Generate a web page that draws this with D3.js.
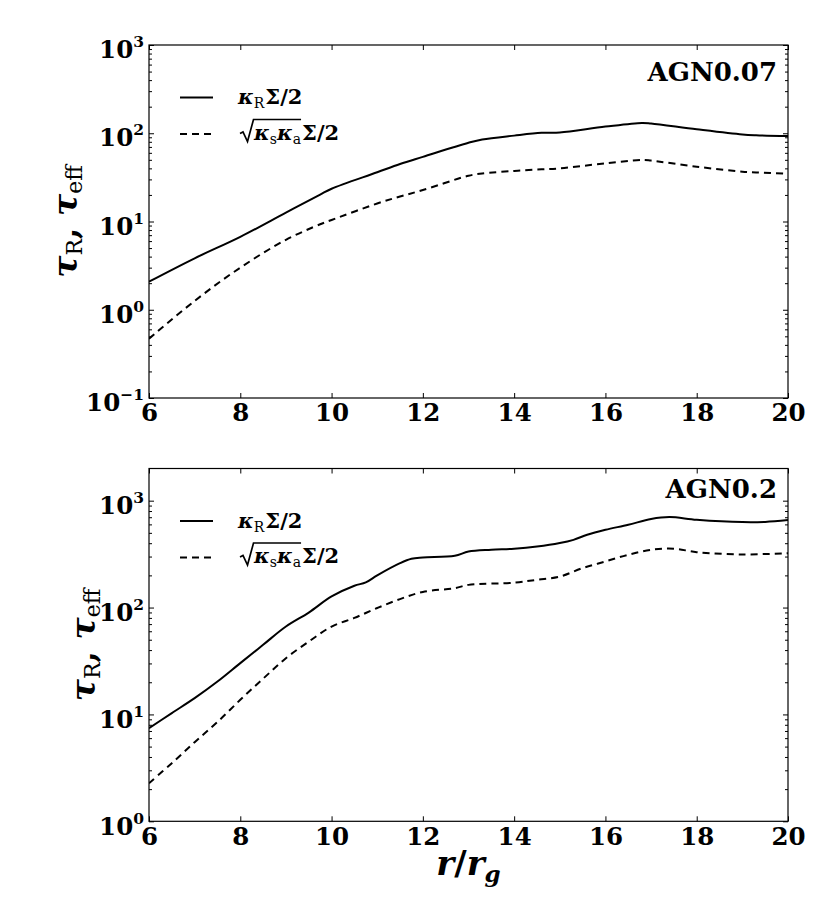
<!DOCTYPE html>
<html>
<head>
<meta charset="utf-8">
<script src="https://cdn.jsdelivr.net/npm/d3@7"></script>
<style>
  body { margin: 0; background: #fff; }
  text { font-family: "DejaVu Serif", "Liberation Serif", serif; font-weight: bold; fill: #000; }
</style>
</head>
<body>
<div id="chart"></div>
<script>
// x axis, r / r_g
const xDomain = [6, 20];
const xTicks = [6, 8, 10, 12, 14, 16, 18, 20];

// AGN0.07 (top panel)
const rTop = [6, 7, 8, 9, 9.75, 10, 11, 11.5, 12, 13, 13.3, 14, 14.6, 15, 16, 16.8, 17, 18, 19, 19.3, 20];
const tauRTop = [2.08, 3.83, 6.7, 12.6, 20.2, 23.5, 36.1, 44.8, 54, 78, 85, 94, 101, 102, 119, 131, 129, 111, 97, 95, 93];
const tauEffTop = [0.47, 1.26, 3.0, 6.2, 9.3, 10.4, 16.0, 19.2, 22.7, 33, 35, 37.4, 39, 40, 45.6, 49.8, 49, 41.8, 36.7, 36, 34.8];

// AGN0.2 (bottom panel)
const rBotR = [6, 6.5, 7, 7.5, 8, 8.5, 9, 9.5, 10, 10.5, 10.75, 11, 11.5, 11.75, 12, 12.7, 13, 13.5, 14, 14.5, 15, 15.3, 15.6, 16, 16.5, 17, 17.4, 18, 19, 19.5, 20];
const tauRBot = [7.43, 10.3, 14.2, 20.3, 30.2, 44.8, 66.4, 89.8, 127, 160, 172, 200, 260, 286, 294, 305, 334, 347, 355, 372, 401, 430, 480, 534, 595, 673, 702, 663, 630, 633, 658];
const rBotEff = [6, 6.5, 7, 7.5, 8, 8.5, 9, 9.5, 10, 10.5, 11, 11.5, 12, 12.7, 13, 14, 14.5, 15, 15.5, 16, 16.5, 17, 17.5, 18, 19, 20];
const tauEffBot = [2.27, 3.5, 5.5, 8.5, 13.7, 21.6, 33.6, 48, 66.4, 80, 99, 120, 140, 152, 163, 171, 182, 195, 234, 270, 312, 347, 355, 330, 314, 323];

const topMajor = [0.1, 1, 10, 100, 1000];
const botMajor = [1, 10, 100, 1000];

const W = 830, H = 913;
const left = 149, right = 788;

const panels = [
  { name: "AGN0.07", top: 45, bottom: 398, yDomain: [0.1, 1000], major: topMajor,
    solid: { r: rTop, v: tauRTop }, dashed: { r: rTop, v: tauEffTop },
    nameDy: 36, ylabelX: 77 },
  { name: "AGN0.2", top: 468.5, bottom: 821.3, yDomain: [1, 2000], major: botMajor,
    solid: { r: rBotR, v: tauRBot }, dashed: { r: rBotEff, v: tauEffBot },
    nameDy: 29, ylabelX: 95 }
];

const svg = d3.select("#chart").append("svg")
  .attr("width", W)
  .attr("height", H);
svg.append("rect").attr("width", W).attr("height", H).attr("fill", "#fff");

const x = d3.scaleLinear().domain(xDomain).range([left, right]);

function minorTicks(domain) {
  var out = [];
  var lo = Math.floor(Math.log10(domain[0])), hi = Math.ceil(Math.log10(domain[1]));
  for (var e = lo; e < hi; e++) {
    for (var k = 2; k <= 9; k++) {
      var v = k * Math.pow(10, e);
      if (v > domain[0] && v < domain[1]) out.push(v);
    }
  }
  return out;
}

function expLabel(d) {
  var e = Math.round(Math.log10(d));
  return e < 0 ? "\u2212" + Math.abs(e) : String(e);
}

panels.forEach(p => {
  const y = d3.scaleLog().domain(p.yDomain).range([p.bottom, p.top]);
  const g = svg.append("g");
  const minor = minorTicks(p.yDomain);

  // minor y ticks, both sides, inside
  g.append("g").attr("transform", "translate(" + left + ",0)")
    .call(d3.axisLeft(y).tickValues(minor).tickSize(-3).tickFormat(""))
    .call(a => a.select(".domain").remove());
  g.append("g").attr("transform", "translate(" + right + ",0)")
    .call(d3.axisRight(y).tickValues(minor).tickSize(-3).tickFormat(""))
    .call(a => a.select(".domain").remove());

  // major y ticks
  var yl = g.append("g").attr("transform", "translate(" + left + ",0)")
    .call(d3.axisLeft(y).tickValues(p.major).tickSizeInner(-5).tickSizeOuter(0).tickPadding(5).tickFormat(""))
    .call(a => a.select(".domain").remove());
  yl.selectAll(".tick text").each(function(d) {
    var t = d3.select(this).attr("dy", null).attr("y", 12.7)
      .attr("font-size", 24.5).attr("font-family", null);
    t.append("tspan").text("10");
    t.append("tspan").attr("font-size", 15.5).attr("dy", -11).text(expLabel(d));
  });
  g.append("g").attr("transform", "translate(" + right + ",0)")
    .call(d3.axisRight(y).tickValues(p.major).tickSizeInner(-5).tickSizeOuter(0).tickFormat(""))
    .call(a => a.select(".domain").remove());

  // x ticks, top and bottom
  var xb = g.append("g").attr("transform", "translate(0," + p.bottom + ")")
    .call(d3.axisBottom(x).tickValues(xTicks).tickSizeInner(-5).tickSizeOuter(0).tickPadding(6))
    .call(a => a.select(".domain").remove());
  xb.selectAll(".tick text").attr("font-size", 24.5).attr("font-family", null);
  g.append("g").attr("transform", "translate(0," + p.top + ")")
    .call(d3.axisTop(x).tickValues(xTicks).tickSizeInner(-5).tickSizeOuter(0).tickFormat(""))
    .call(a => a.select(".domain").remove());

  // frame
  g.append("rect")
    .attr("x", left).attr("y", p.top)
    .attr("width", right - left).attr("height", p.bottom - p.top)
    .attr("fill", "none").attr("stroke", "#000").attr("stroke-width", 1.2);

  // curves
  const line = d3.line()
    .x(d => x(d[0]))
    .y(d => y(d[1]))
    .curve(d3.curveCatmullRom.alpha(0.5));
  const clip = "clip" + p.name.replace(".", "");
  g.append("clipPath").attr("id", clip).append("rect")
    .attr("x", left).attr("y", p.top).attr("width", right - left).attr("height", p.bottom - p.top);

  g.append("path")
    .datum(d3.zip(p.solid.r, p.solid.v))
    .attr("clip-path", "url(#" + clip + ")")
    .attr("fill", "none").attr("stroke", "#000").attr("stroke-width", 2)
    .attr("d", line);
  g.append("path")
    .datum(d3.zip(p.dashed.r, p.dashed.v))
    .attr("clip-path", "url(#" + clip + ")")
    .attr("fill", "none").attr("stroke", "#000").attr("stroke-width", 2)
    .attr("stroke-dasharray", "7,5")
    .attr("d", line);

  // panel name
  g.append("text")
    .attr("x", 777).attr("y", p.top + p.nameDy)
    .attr("text-anchor", "end").attr("font-size", 26)
    .text(p.name);

  // legend
  var ly1 = p.top + 52.5, ly2 = p.top + 89;
  g.append("line").attr("x1", 180).attr("x2", 213).attr("y1", ly1).attr("y2", ly1)
    .attr("stroke", "#000").attr("stroke-width", 2);
  g.append("line").attr("x1", 180).attr("x2", 213).attr("y1", ly2).attr("y2", ly2)
    .attr("stroke", "#000").attr("stroke-width", 2).attr("stroke-dasharray", "7,5");

  var t1 = g.append("text").attr("x", 238).attr("y", ly1 + 6.5).attr("font-size", 21);
  t1.append("tspan").attr("font-style", "italic").text("\u03ba");
  t1.append("tspan").attr("font-size", 14).attr("font-weight", "normal").attr("dy", 4).text("R");
  t1.append("tspan").attr("dy", -4).attr("dx", 1).text("\u03a3/2");

  // sqrt(kappa_s kappa_a) Sigma / 2
  var base = ly2 + 5.5, rx = 240;
  var t2 = g.append("text").attr("x", rx + 14).attr("y", base).attr("font-size", 21);
  t2.append("tspan").attr("font-style", "italic").text("\u03ba");
  t2.append("tspan").attr("font-size", 14).attr("font-weight", "normal").attr("dy", 4).text("s");
  t2.append("tspan").attr("font-style", "italic").attr("font-size", 21).attr("dy", -4).text("\u03ba");
  t2.append("tspan").attr("font-size", 14).attr("font-weight", "normal").attr("dy", 4).text("a");
  var sig = t2.append("tspan").attr("dy", -4).attr("dx", 1).text("\u03a3/2");
  var over = sig.node().getStartPositionOfChar(0).x - 1;
  g.append("path")
    .attr("d", "M" + rx + "," + (base - 6) + "l3,-1.5l4.5,9.5l6,-22H" + over)
    .attr("fill", "none").attr("stroke", "#000").attr("stroke-width", 1.7)
    .attr("stroke-linejoin", "miter");

  // y label
  var yc = (p.top + p.bottom) / 2;
  var yt = g.append("text")
    .attr("transform", "translate(" + p.ylabelX + "," + yc + ") rotate(-90)")
    .attr("text-anchor", "middle").attr("font-size", 33);
  yt.append("tspan").attr("font-style", "italic").text("\u03c4");
  yt.append("tspan").attr("font-size", 22).attr("font-weight", "normal").attr("dy", 5).text("R");
  yt.append("tspan").attr("dy", -5).text(", ");
  yt.append("tspan").attr("font-style", "italic").text("\u03c4");
  yt.append("tspan").attr("font-size", 22).attr("font-weight", "normal").attr("dy", 5).text("eff");
});

// x label
var xt = svg.append("text")
  .attr("x", (left + right) / 2).attr("y", 875)
  .attr("text-anchor", "middle").attr("font-size", 34);
xt.append("tspan").attr("font-style", "italic").text("r");
xt.append("tspan").text("/");
xt.append("tspan").attr("font-style", "italic").text("r");
xt.append("tspan").attr("font-style", "italic").attr("font-size", 23).attr("dy", 7).text("g");
</script>
</body>
</html>
